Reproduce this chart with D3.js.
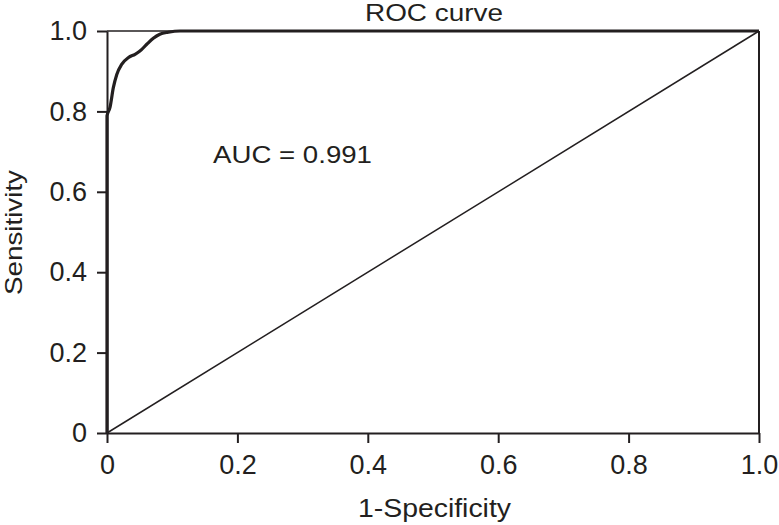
<!DOCTYPE html>
<html>
<head>
<meta charset="utf-8">
<script src="https://cdn.jsdelivr.net/npm/d3@7"></script>
<style>
  body { margin: 0; background: #fff; }
  text { font-family: "Liberation Sans", Arial, sans-serif; fill: #231f20; }
</style>
</head>
<body>
<div class="graphic"></div>
<script>
// ROC points (1-specificity, sensitivity)
let fpr = [0, 0, 0.0046, 0.0097, 0.015, 0.0225, 0.033, 0.043, 0.0505, 0.061, 0.071, 0.081, 0.094, 0.112, 1];
let tpr = [0, 0.789, 0.81, 0.859, 0.892, 0.917, 0.934, 0.942, 0.950, 0.967, 0.982, 0.992, 0.997, 1, 1];
let xTicks = [0, 0.2, 0.4, 0.6, 0.8, 1.0];
let yTicks = [0, 0.2, 0.4, 0.6, 0.8, 1.0];
let aucLabel = "AUC = 0.991";

let svg = d3.select(".graphic")
            .append("svg")
            .attr("width", 779)
            .attr("height", 525);

let x = d3.scaleLinear().domain([0, 1]).range([107, 759]);
let y = d3.scaleLinear().domain([0, 1]).range([433, 31]);
let fmt = d => d === 0 ? "0" : d3.format(".1f")(d);
let ink = "#231f20";

// frame: top and right
svg.append("line").attr("x1", x(0)).attr("x2", x(1)).attr("y1", y(1)).attr("y2", y(1))
   .attr("stroke", ink).attr("stroke-width", 1.5);
svg.append("line").attr("x1", x(1)).attr("x2", x(1)).attr("y1", y(1)).attr("y2", y(0))
   .attr("stroke", ink).attr("stroke-width", 2);

// axes
let xAxis = svg.append("g").attr("transform", `translate(0,${y(0)})`)
   .call(d3.axisBottom(x).tickValues(xTicks).tickFormat(fmt).tickSize(10).tickSizeOuter(0).tickPadding(12));
let yAxis = svg.append("g").attr("transform", `translate(${x(0)},0)`)
   .call(d3.axisLeft(y).tickValues(yTicks).tickFormat(fmt).tickSize(10).tickSizeOuter(0).tickPadding(10));
[xAxis, yAxis].forEach(g => {
    g.select(".domain").attr("stroke", ink).attr("stroke-width", 2);
    g.selectAll(".tick line").attr("stroke", ink).attr("stroke-width", 2);
    g.selectAll(".tick text").attr("font-size", 27).attr("fill", ink)
     .style("font-family", "'Liberation Sans', Arial, sans-serif");
});

// diagonal reference
svg.append("line").attr("x1", x(0)).attr("y1", y(0)).attr("x2", x(1)).attr("y2", y(1))
   .attr("stroke", ink).attr("stroke-width", 1.5);

// ROC curve
let pts = fpr.map((f, i) => [f, tpr[i]]);
svg.append("path")
   .datum(pts)
   .attr("d", d3.line().x(d => x(d[0])).y(d => y(d[1])).curve(d3.curveMonotoneX))
   .attr("fill", "none")
   .attr("stroke", ink)
   .attr("stroke-width", 3.2)
   .attr("stroke-linejoin", "round");

// texts (the reference lettering is wider than Liberation, so stretch to width)
function label(txt, size, len, tf) {
    return svg.append("text")
        .attr("transform", tf)
        .attr("font-size", size)
        .attr("textLength", len)
        .attr("lengthAdjust", "spacingAndGlyphs")
        .text(txt);
}
label("ROC curve", 24, 138, "translate(365,21)");
label(aucLabel, 23.5, 159, "translate(213,163)");
label("1-Specificity", 25, 153, "translate(358,517)");
label("Sensitivity", 24, 125, "translate(22,295) rotate(-90)");
</script>
</body>
</html>
